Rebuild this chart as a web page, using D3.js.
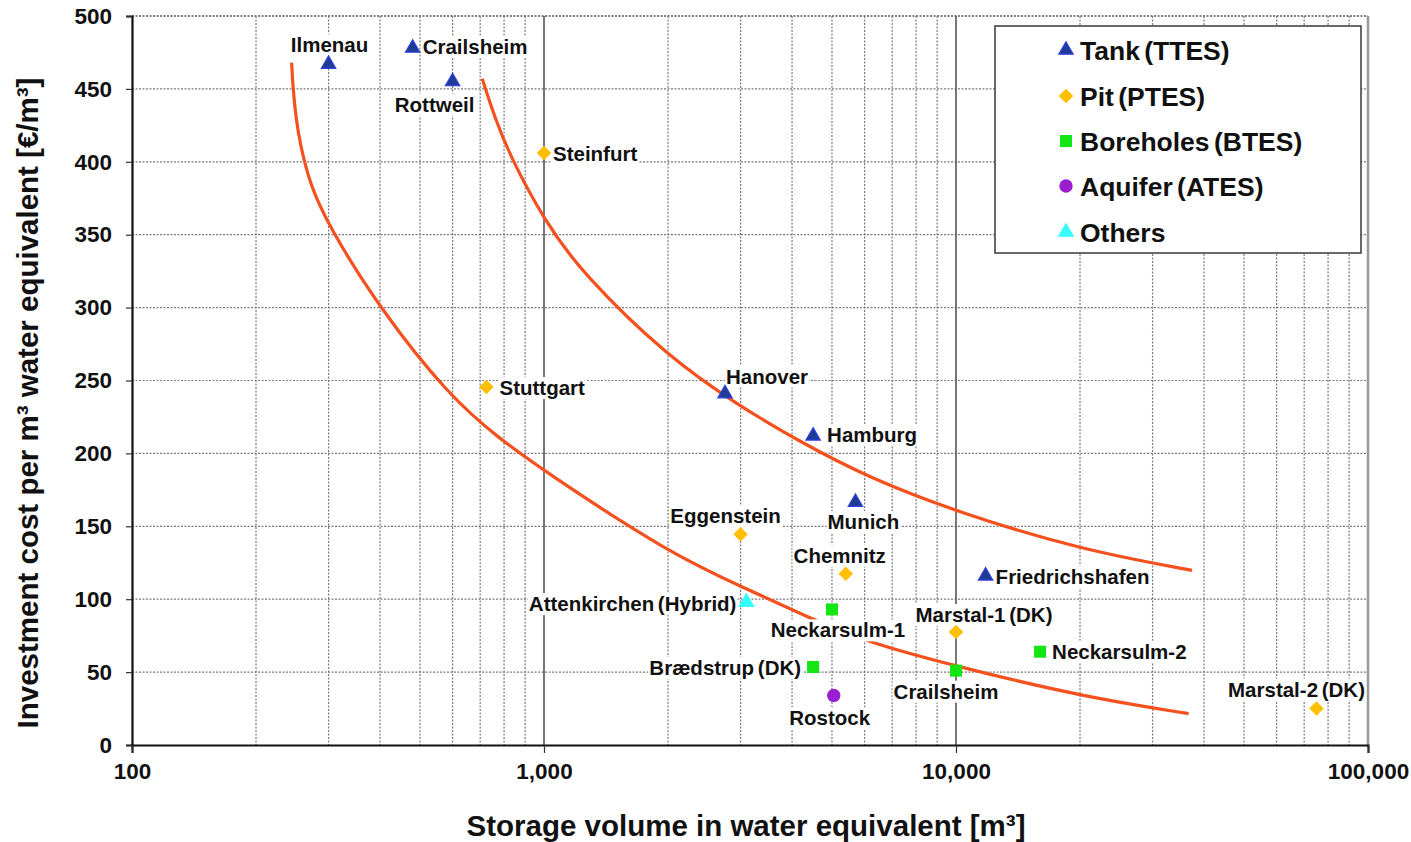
<!DOCTYPE html>
<html>
<head>
<meta charset="utf-8">
<script src="https://cdn.jsdelivr.net/npm/d3@7"></script>
<style>
  html, body { margin: 0; padding: 0; background: #fff; }
  svg { display: block; font-family: "Liberation Sans", Arial, sans-serif; font-weight: bold; }
</style>
</head>
<body>
<svg id="chart" width="1411" height="842"></svg>
<script>
// ---------------- DATA ----------------
// [name, storage volume m³, investment cost €/m³]
const tankTTES = [
  ["Ilmenau", 300, 467],
  ["Crailsheim", 480, 478],
  ["Rottweil", 600, 455],
  ["Hanover", 2750, 241],
  ["Hamburg", 4500, 212],
  ["Munich", 5700, 166.5],
  ["Friedrichshafen", 11800, 116]
];
const pitPTES = [
  ["Steinfurt", 1000, 406],
  ["Stuttgart", 725, 245.5],
  ["Eggenstein", 3000, 144.5],
  ["Chemnitz", 5400, 117.5],
  ["Marstal-1 (DK)", 10000, 77.5],
  ["Marstal-2 (DK)", 75000, 25]
];
const boreholesBTES = [
  ["Neckarsulm-1", 5000, 93],
  ["Brædstrup (DK)", 4500, 53.5],
  ["Crailsheim", 10000, 51],
  ["Neckarsulm-2", 16000, 64]
];
const aquiferATES = [
  ["Rostock", 5050, 34]
];
const others = [
  ["Attenkirchen (Hybrid)", 3100, 98]
];
// cost curves: [volume, cost]
const lowerCurve = [
  [244, 468], [246, 450], [250, 430], [256, 412], [270, 385], [300, 356],
  [400, 299], [590, 239], [780, 210], [1000, 188], [2000, 132], [3100, 107],
  [4350, 88], [6000, 71], [10000, 54], [20000, 33.5], [36700, 21.5]
];
const upperCurve = [
  [708, 457], [760, 430], [827, 404], [1005, 359], [1243, 323], [2000, 266],
  [2960, 233], [4180, 208], [6070, 184], [10000, 160], [20000, 134], [37400, 119.8]
];
const xTicks = [100, 1000, 10000, 100000];
const yTicks = [0, 50, 100, 150, 200, 250, 300, 350, 400, 450, 500];
const legendLabels = ["Tank (TTES)", "Pit (PTES)", "Boreholes (BTES)", "Aquifer (ATES)", "Others"];
const xTitle = "Storage volume in water equivalent [m³]";
const yTitle = "Investment cost per m³ water equivalent [€/m³]";

// ---------------- LAYOUT / STYLE ----------------
const plot = { left: 132, right: 1368, top: 16, bottom: 745 };

const series = [
  { key: "TTES", data: tankTTES, shape: "tri", fill: "#203b94", stroke: "#2f3fe0" },
  { key: "PTES", data: pitPTES, shape: "diamond", fill: "#ffbf00", stroke: "#ffbf00" },
  { key: "BTES", data: boreholesBTES, shape: "square", fill: "#14e614", stroke: "#14e614" },
  { key: "ATES", data: aquiferATES, shape: "circle", fill: "#9a1fd0", stroke: "#9a1fd0" },
  { key: "OTH", data: others, shape: "tri", fill: "#33ffff", stroke: "#33ffff" }
];

// label placement relative to marker: [anchor, dx, dy(baseline)]
const labelPlace = {
  "TTES|Ilmenau": ["middle", 1, -12],
  "TTES|Crailsheim": ["start", 10, 6],
  "TTES|Rottweil": ["middle", -18, 30],
  "TTES|Hanover": ["start", 1, -10],
  "TTES|Hamburg": ["start", 14, 6],
  "TTES|Munich": ["middle", 8, 27],
  "TTES|Friedrichshafen": ["start", 10, 8],
  "PTES|Steinfurt": ["start", 9, 8],
  "PTES|Stuttgart": ["start", 13, 8],
  "PTES|Eggenstein": ["middle", -15, -11],
  "PTES|Chemnitz": ["middle", -6, -11],
  "PTES|Marstal-1 (DK)": ["middle", 28, -10],
  "PTES|Marstal-2 (DK)": ["middle", -20, -12],
  "BTES|Neckarsulm-1": ["middle", 6, 28],
  "BTES|Brædstrup (DK)": ["end", -12, 8],
  "BTES|Crailsheim": ["middle", -10, 28],
  "BTES|Neckarsulm-2": ["start", 12, 7],
  "ATES|Rostock": ["middle", -4, 30],
  "OTH|Attenkirchen (Hybrid)": ["end", -10, 9]
};

const FONT = "Liberation Sans, Arial, sans-serif";
const svg = d3.select("#chart");
const x = d3.scaleLog().domain([100, 100000]).range([plot.left, plot.right]);
const y = d3.scaleLinear().domain([0, 500]).range([plot.bottom, plot.top]);

// ---------- grid ----------
const grid = svg.append("g");
grid.selectAll("line.h").data(yTicks.filter(d => d > 0)).join("line")
  .attr("x1", plot.left).attr("x2", plot.right)
  .attr("y1", d => y(d)).attr("y2", d => y(d))
  .attr("stroke", d => d === 500 ? "#555" : "#7a7a7a")
  .attr("stroke-width", d => d === 500 ? 1.6 : 1.2)
  .attr("stroke-dasharray", "2,1.5");
const minor = [];
[100, 1000, 10000].forEach(b => { for (let k = 2; k <= 9; k++) minor.push(b * k); });
grid.selectAll("line.v").data(minor).join("line")
  .attr("x1", d => x(d)).attr("x2", d => x(d))
  .attr("y1", plot.top).attr("y2", plot.bottom)
  .attr("stroke", "#7a7a7a").attr("stroke-width", 1.2)
  .attr("stroke-dasharray", "2,1.5");
grid.selectAll("line.m").data([1000, 10000]).join("line")
  .attr("x1", d => x(d)).attr("x2", d => x(d))
  .attr("y1", plot.top).attr("y2", plot.bottom)
  .attr("stroke", "#555").attr("stroke-width", 1.6);
grid.append("line")
  .attr("x1", x(100000)).attr("x2", x(100000))
  .attr("y1", plot.top).attr("y2", plot.bottom)
  .attr("stroke", "#999").attr("stroke-width", 2.5);

// ---------- curves ----------
const line = d3.line().x(d => x(d[0])).y(d => y(d[1])).curve(d3.curveBasis);
[lowerCurve, upperCurve].forEach(c => {
  svg.append("path").attr("d", line(c))
    .attr("fill", "none").attr("stroke", "#f4511e").attr("stroke-width", 3.2);
});

// ---------- axes ----------
const yAxis = d3.axisLeft(y).tickValues(yTicks).tickSize(6).tickPadding(14);
const gy = svg.append("g").attr("transform", `translate(${plot.left},0)`).call(yAxis);
gy.select(".domain").attr("stroke", "#111").attr("stroke-width", 2.2);
gy.selectAll(".tick line").attr("stroke", "#333").attr("stroke-width", 1.2);
gy.selectAll(".tick text").attr("font-size", 22.5).attr("font-weight", "bold")
  .attr("font-family", FONT).attr("fill", "#111");

const xAxis = d3.axisBottom(x).tickValues(xTicks).tickFormat(d3.format(",")).tickSize(8).tickPadding(10);
const gx = svg.append("g").attr("transform", `translate(0,${plot.bottom})`).call(xAxis);
gx.select(".domain").attr("stroke", "#111").attr("stroke-width", 2.2);
gx.selectAll(".tick line").attr("stroke", "#333").attr("stroke-width", 1.2);
gx.selectAll(".tick text").attr("font-size", 22.5).attr("font-weight", "bold")
  .attr("font-family", FONT).attr("fill", "#111");

// ---------- axis titles ----------
svg.append("text").attr("x", 746).attr("y", 836).attr("text-anchor", "middle")
  .attr("font-size", 29.5).attr("fill", "#111").text(xTitle);
svg.append("text").attr("transform", "translate(38,403) rotate(-90)").attr("text-anchor", "middle")
  .attr("font-size", 29.5).attr("fill", "#111").text(yTitle);

// ---------- markers helper ----------
function drawMarker(g, shape, cx, cy, fill, stroke) {
  if (shape === "tri") {
    g.append("path").attr("d", d3.symbol().type(d3.symbolTriangle).size(90)())
      .attr("transform", `translate(${cx},${cy})`)
      .attr("fill", fill).attr("stroke", stroke).attr("stroke-width", 1.2);
  } else if (shape === "diamond") {
    g.append("path").attr("d", d3.symbol().type(d3.symbolSquare).size(105)())
      .attr("transform", `translate(${cx},${cy}) rotate(45)`)
      .attr("fill", fill);
  } else if (shape === "square") {
    g.append("path").attr("d", d3.symbol().type(d3.symbolSquare).size(145)())
      .attr("transform", `translate(${cx},${cy})`).attr("fill", fill);
  } else {
    g.append("path").attr("d", d3.symbol().type(d3.symbolCircle).size(140)())
      .attr("transform", `translate(${cx},${cy})`).attr("fill", fill);
  }
}

// ---------- point labels (white background) ----------
const labG = svg.append("g");
series.forEach(s => {
  s.data.forEach(d => {
    const p = labelPlace[s.key + "|" + d[0]];
    const px = x(d[1]), py = y(d[2]);
    const g = labG.append("g");
    const t = g.append("text").attr("x", px + p[1]).attr("y", py + p[2])
      .attr("text-anchor", p[0]).attr("font-size", 20.5).attr("fill", "#111")
      .attr("word-spacing", -2).text(d[0]);
    const bb = t.node().getBBox();
    g.insert("rect", "text").attr("x", bb.x - 1).attr("y", bb.y + 1)
      .attr("width", bb.width + 2).attr("height", bb.height - 1).attr("fill", "#fff");
  });
});

// ---------- points ----------
const ptG = svg.append("g");
series.forEach(s => {
  s.data.forEach(d => drawMarker(ptG, s.shape, x(d[1]), y(d[2]), s.fill, s.stroke));
});

// ---------- legend ----------
const lg = svg.append("g");
lg.append("rect").attr("x", 995).attr("y", 26).attr("width", 366).attr("height", 227)
  .attr("fill", "#fff").attr("stroke", "#444").attr("stroke-width", 1.6);
const rowY = [51, 97, 142, 187, 233];
series.forEach((s, i) => {
  drawMarker(lg, s.shape, 1066, rowY[i] - 1, s.fill, s.stroke);
  lg.append("text").attr("x", 1080).attr("y", rowY[i] + 9).attr("font-size", 26.5)
    .attr("fill", "#111").attr("word-spacing", -3).text(legendLabels[i]);
});
</script>
</body>
</html>
